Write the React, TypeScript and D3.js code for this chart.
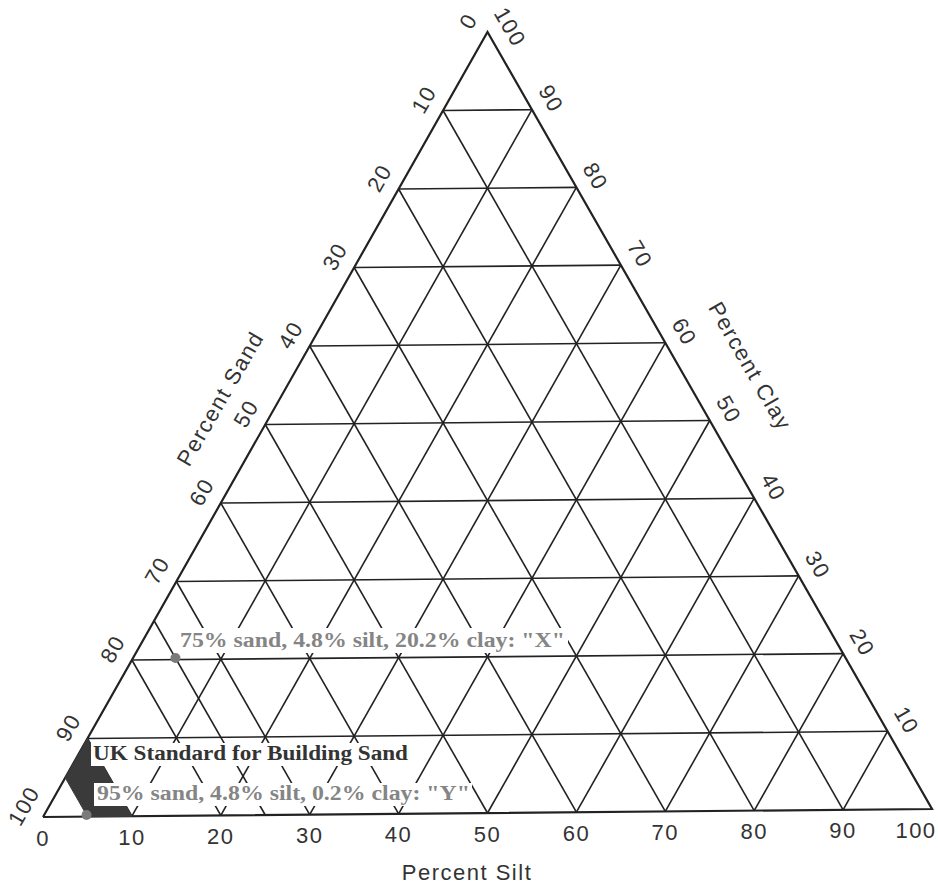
import React from "react";
import * as d3 from "d3";

// ternary soil diagram: sand (left edge), silt (bottom), clay (right edge)
const TICKS = [0, 10, 20, 30, 40, 50, 60, 70, 80, 90, 100];
const GRID = [10, 20, 30, 40, 50, 60, 70, 80, 90];

const sampleNames = ["X", "Y"];
const sampleSand = [75, 95];
const sampleSilt = [4.8, 4.8];
const sampleClay = [20.2, 0.2];

const ukSandRange = [90, 95];
const highlightSand = 75;

const W = 938;
const H = 885;

// u = silt + clay/2 runs along the base, the base is slightly tilted in the scan
const xScale = d3.scaleLinear().domain([0, 100]).range([43, 932]);
const baseY = d3.scaleLinear().domain([0, 100]).range([817, 809]);
const hScale = d3.scaleLinear().domain([0, 100]).range([0, 781]);

const pt = (silt: number, clay: number): [number, number] => {
  const u = silt + clay / 2;
  return [xScale(u), baseY(u) - hScale(clay)];
};

const line = d3.line<[number, number]>();

const NL: [number, number] = [-0.866, -0.5];
const NR: [number, number] = [0.866, -0.5];
const tickFont = "'Liberation Sans', Arial, sans-serif";
const serif = "'Liberation Serif', 'Times New Roman', serif";

export default function App() {
  const gridLines: [number, number][][] = [];
  GRID.forEach((v) => {
    // constant clay
    gridLines.push([pt(0, v), pt(100 - v, v)]);
    // constant silt
    gridLines.push([pt(v, 0), pt(v, 100 - v)]);
    // constant sand
    gridLines.push([pt(0, 100 - v), pt(100 - v, 0)]);
  });

  const outline = [pt(0, 0), pt(100, 0), pt(0, 100), pt(0, 0)];
  const hl = [pt(0, 100 - highlightSand), pt(100 - highlightSand, 0)];

  const [s0, s1] = ukSandRange;
  const ukPoly = [
    pt(0, 100 - s0),
    pt(100 - s0, 0),
    pt(100 - s1, 0),
    pt(0, 100 - s1),
  ];

  const fmt = (i: number) =>
    `${sampleSand[i]}% sand, ${sampleSilt[i]}% silt, ${sampleClay[i]}% clay: "${sampleNames[i]}"`;

  const ax = (p: [number, number], n: [number, number], d: number) => [
    p[0] + n[0] * d,
    p[1] + n[1] * d,
  ];

  const sandTitle = ax(pt(0, 50), NL, 52);
  const clayTitle = ax(pt(47, 53), NR, 62);
  const siltTitle = [467, 872];

  return (
    <svg
      width={W}
      height={H}
      style={{ position: "absolute", left: 0, top: 0, background: "#fff" }}
    >
      <rect width={W} height={H} fill="#fff" />
      <g fill="none" stroke="#222" strokeWidth={1.6}>
        {gridLines.map((l, i) => (
          <path key={i} d={line(l) || ""} />
        ))}
        <path d={line(hl) || ""} />
        <path d={line(outline) || ""} strokeWidth={2.2} strokeLinejoin="miter" />
      </g>

      <path d={(line(ukPoly) || "") + "Z"} fill="#3a3a3a" stroke="#3a3a3a" strokeWidth={1} />

      {/* white label boxes */}
      <rect x={177} y={628} width={391} height={25} fill="#fff" />
      <rect x={91} y={743} width={320} height={23} fill="#fff" />
      <rect x={94} y={783} width={378} height={23} fill="#fff" />

      <text
        x={93}
        y={760}
        fontFamily={serif}
        fontWeight="bold"
        fontSize={20}
        fill="#333"
        textLength={315}
        lengthAdjust="spacingAndGlyphs"
      >
        UK Standard for Building Sand
      </text>
      <text
        x={180}
        y={647}
        fontFamily={serif}
        fontWeight="bold"
        fontSize={20}
        fill="#858585"
        textLength={385}
        lengthAdjust="spacingAndGlyphs"
      >
        {fmt(0)}
      </text>
      <text
        x={97}
        y={800}
        fontFamily={serif}
        fontWeight="bold"
        fontSize={20}
        fill="#858585"
        textLength={373}
        lengthAdjust="spacingAndGlyphs"
      >
        {fmt(1)}
      </text>

      {sampleNames.map((n, i) => {
        const [cx, cy] = pt(sampleSilt[i], sampleClay[i]);
        return <circle key={n} cx={cx} cy={cy} r={5} fill="#7a7a7a" />;
      })}

      {/* tick labels */}
      <g fontFamily={tickFont} fontSize={22} fill="#333" textAnchor="middle" dominantBaseline="central" letterSpacing={1.5}>
        {TICKS.map((v) => {
          const [x, y] = ax(pt(0, 100 - v), NL, 22);
          return (
            <text key={"l" + v} transform={`translate(${x},${y}) rotate(-60)`}>
              {v}
            </text>
          );
        })}
        {TICKS.filter((v) => v > 0).map((v) => {
          const [x0, y0] = ax(pt(100 - v, v), NR, 22);
          // keep the apex label inside the frame, sliding it along the edge
          const y = Math.max(y0, 27);
          const x = x0 + (y - y0) * 0.577;
          return (
            <text key={"r" + v} transform={`translate(${x},${y}) rotate(60)`}>
              {v}
            </text>
          );
        })}
        {TICKS.map((v) => {
          const [x, y] = pt(v, 0);
          return (
            <text key={"b" + v} x={Math.min(x, W - 22)} y={y + 21}>
              {v}
            </text>
          );
        })}
      </g>

      <g fontFamily={tickFont} fontSize={22} fill="#333" textAnchor="middle" dominantBaseline="central" letterSpacing={1.5}>
        <text transform={`translate(${sandTitle[0]},${sandTitle[1]}) rotate(-60)`}>Percent Sand</text>
        <text transform={`translate(${clayTitle[0]},${clayTitle[1]}) rotate(60)`}>Percent Clay</text>
        <text x={siltTitle[0]} y={siltTitle[1]}>Percent Silt</text>
      </g>
    </svg>
  );
}
